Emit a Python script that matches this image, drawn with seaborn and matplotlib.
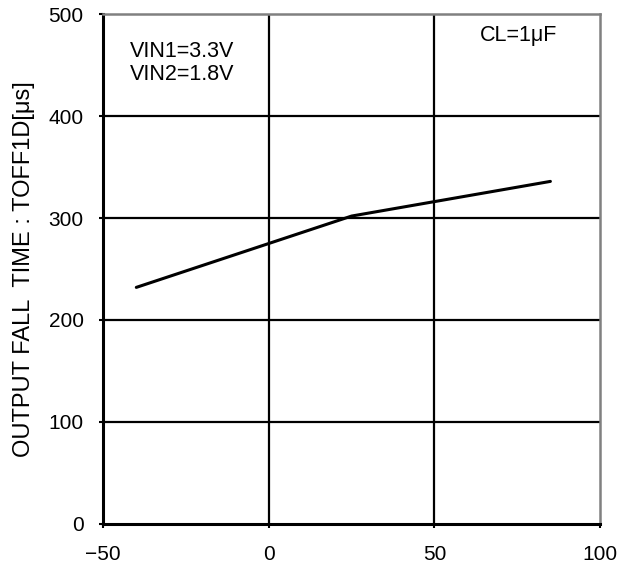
import matplotlib
matplotlib.use("Agg")
import matplotlib.pyplot as plt
import seaborn as sns
import pandas as pd

# data
temperature = [-40, 25, 85]
fall_time = [232, 302, 336]
x_ticks = [-50, 0, 50, 100]
x_tick_labels = ["\u221250", "0", "50", "100"]
y_ticks = [0, 100, 200, 300, 400, 500]

sns.set_theme(style="white")
plt.rcParams["font.family"] = ["Liberation Sans", "DejaVu Sans"]
plt.rcParams["text.color"] = "black"
plt.rcParams["axes.labelcolor"] = "black"
plt.rcParams["xtick.color"] = "black"
plt.rcParams["ytick.color"] = "black"

df = pd.DataFrame({"temp": temperature, "toff": fall_time})

fig = plt.figure(figsize=(6.33, 5.70), dpi=100)
ax = fig.add_axes([0.163, 0.081, 0.785, 0.894])

sns.lineplot(data=df, x="temp", y="toff", color="black", linewidth=2.2, ax=ax, zorder=3)

ax.set_xlim(-50, 100)
ax.set_ylim(0, 500)
ax.set_xticks(x_ticks)
ax.set_yticks(y_ticks)
ax.set_xticklabels(x_tick_labels, fontsize=15)
ax.set_yticklabels([str(v) for v in y_ticks], fontsize=15)
ax.tick_params(axis="x", direction="out", length=3, width=1.5, pad=12, bottom=True)
ax.tick_params(axis="y", direction="out", length=3, width=1.5, pad=11, left=True)

# heavy black grid, only on the inner divisions
for v in [0, 50]:
    ax.axvline(v, color="black", linewidth=1.6, zorder=1)
for v in [100, 200, 300, 400]:
    ax.axhline(v, color="black", linewidth=1.6, zorder=1)

for side in ["left", "bottom"]:
    ax.spines[side].set_color("black")
    ax.spines[side].set_linewidth(2.2)
for side in ["top", "right"]:
    ax.spines[side].set_color("#808080")
    ax.spines[side].set_linewidth(1.8)

ax.set_xlabel("")
ax.set_ylabel("OUTPUT FALL  TIME : TOFF1D[\u03bcs]", fontsize=17, labelpad=10)

ax.text(-42, 474, "VIN1=3.3V\nVIN2=1.8V", fontsize=15.5, va="top", ha="left", linespacing=1.15)
ax.text(87, 489, "CL=1\u03bcF", fontsize=15.5, va="top", ha="right")

fig.savefig("out.png", dpi=100)
